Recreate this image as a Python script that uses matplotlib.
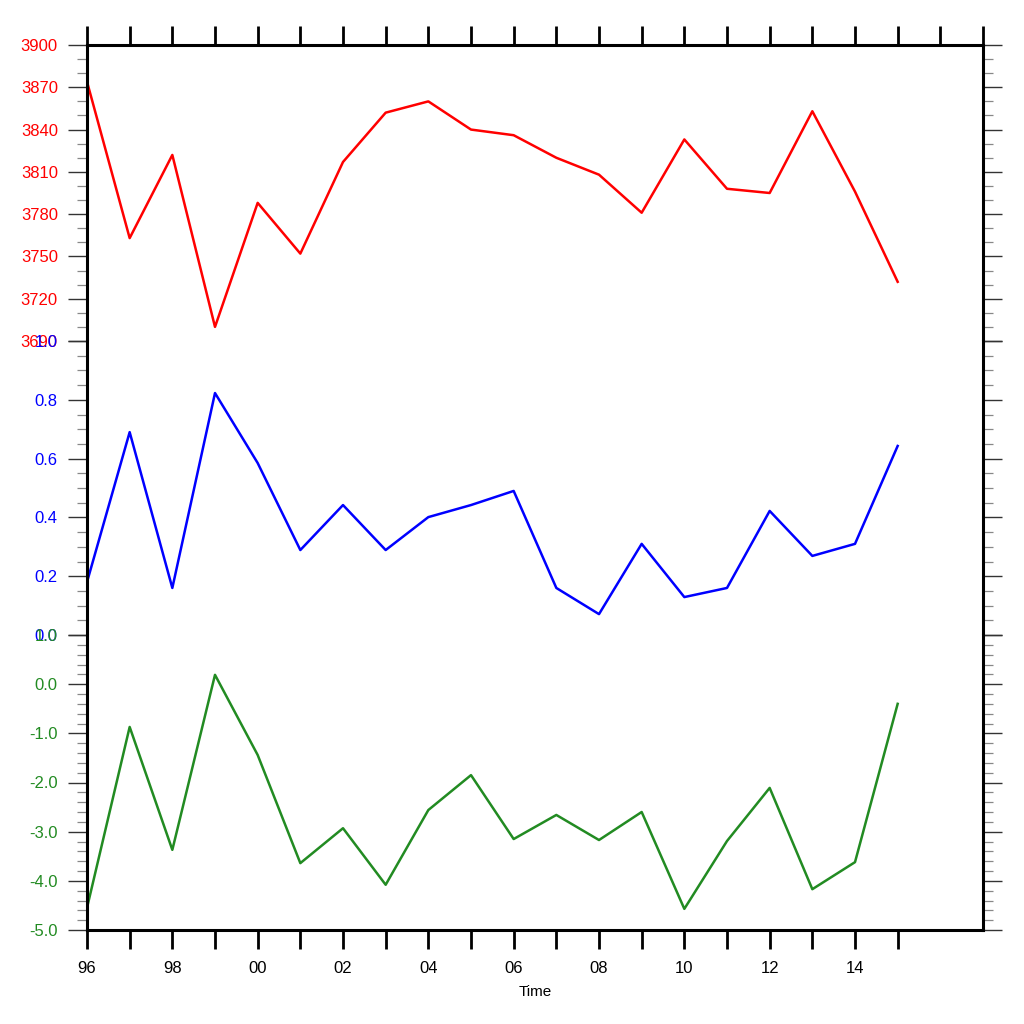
import numpy as np
import matplotlib
matplotlib.use("Agg")
import matplotlib.pyplot as plt
from matplotlib.ticker import MultipleLocator, FormatStrFormatter

plt.rcParams['font.family'] = ['Liberation Sans', 'DejaVu Sans']

years = list(range(1996, 2016))

# top panel (red)
red_vals = [3874, 3763, 3822, 3700, 3788, 3752, 3817, 3852, 3860, 3840,
            3836, 3820, 3808, 3781, 3833, 3798, 3795, 3853, 3796, 3732]
# middle panel (blue)
blue_vals = [0.18, 0.69, 0.16, 0.823, 0.585, 0.289, 0.442, 0.289, 0.401, 0.442,
             0.49, 0.16, 0.071, 0.31, 0.129, 0.16, 0.422, 0.269, 0.31, 0.643]
# bottom panel (green)
green_vals = [-4.55, -0.87, -3.37, 0.19, -1.44, -3.64, -2.93, -4.08, -2.56, -1.85,
              -3.15, -2.66, -3.17, -2.60, -4.57, -3.19, -2.11, -4.17, -3.62, -0.40]

xticks_bottom = list(range(1996, 2016))
xlabels_bottom = [f"{y % 100:02d}" if y % 2 == 0 and y <= 2014 else "" for y in xticks_bottom]
xticks_top = list(range(1996, 2018))

fig = plt.figure(figsize=(10.24, 10.24), dpi=100)

left, width = 87 / 1024, 896 / 1024
boxes = [(45, 341), (341, 635), (635, 930)]
panels = [
    (red_vals, 'red', (3690, 3900), 30, 10, '%d'),
    (blue_vals, 'blue', (0.0, 1.0), 0.2, 0.05, '%.1f'),
    (green_vals, '#228B22', (-5.0, 1.0), 1.0, 0.2, '%.1f'),
]

axes = []
for (top, bot), (vals, col, ylim, maj, mnr, fmt) in zip(boxes, panels):
    ax = fig.add_axes([left, 1 - bot / 1024, width, (bot - top) / 1024])
    ax.plot(years, vals, color=col, lw=1.8)
    ax.set_xlim(1996, 2017)
    ax.set_ylim(*ylim)
    ax.yaxis.set_major_locator(MultipleLocator(maj))
    ax.yaxis.set_minor_locator(MultipleLocator(mnr))
    ax.yaxis.set_major_formatter(FormatStrFormatter(fmt))
    ax.tick_params(axis='y', which='major', direction='out', length=14, width=1.0,
                   color='#333333', labelcolor=col, labelsize=12, pad=7,
                   left=True, right=True)
    ax.tick_params(axis='y', which='minor', direction='out', length=7, width=0.9,
                   color='#888888', left=True, right=True)
    for s in ['left', 'right']:
        ax.spines[s].set_linewidth(2.2)
    ax.spines['top'].set_visible(False)
    ax.spines['bottom'].set_visible(False)
    ax.set_xticks([])
    axes.append(ax)

top_ax, bot_ax = axes[0], axes[2]
top_ax.spines['top'].set_visible(True)
top_ax.spines['top'].set_linewidth(2.2)
top_ax.xaxis.set_ticks_position('top')
top_ax.set_xticks(xticks_top)
top_ax.set_xticklabels([])
top_ax.tick_params(axis='x', direction='out', length=14, width=2.0, color='black',
                   top=True, bottom=False)

bot_ax.spines['bottom'].set_visible(True)
bot_ax.spines['bottom'].set_linewidth(2.2)
bot_ax.set_xticks(xticks_bottom)
bot_ax.set_xticklabels(xlabels_bottom)
bot_ax.tick_params(axis='x', direction='out', length=14, width=2.0, color='black',
                   labelsize=12, pad=8, bottom=True, top=False)
bot_ax.set_xlabel('Time', fontsize=11, labelpad=7)

fig.savefig('out.png', dpi=100)
